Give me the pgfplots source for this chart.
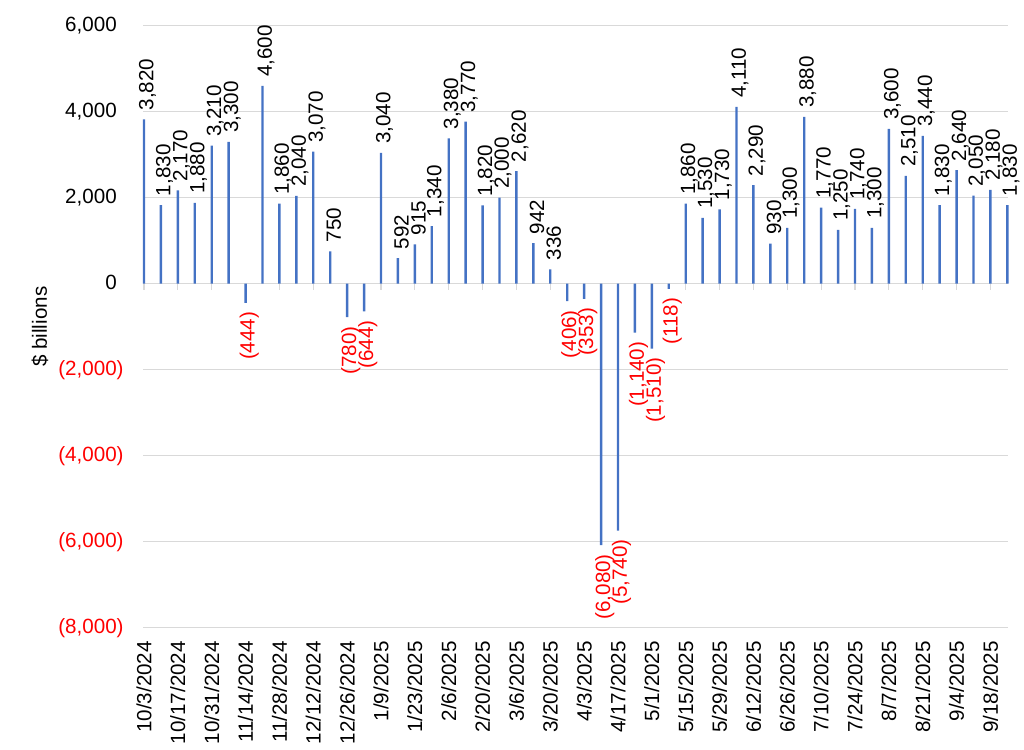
\documentclass[border=0pt]{standalone}
\usepackage{fontspec}
\setmainfont{Liberation Sans}
\usepackage{graphicx}
\usepackage{pgfplots}
\usepackage{pgfplotstable}
\pgfplotsset{compat=1.18}

\definecolor{barblue}{HTML}{4472C4}
\definecolor{gridgray}{HTML}{D9D9D9}

% weekly flows, $ billions (week 1 = 10/3/2024)
\pgfplotstableread{
wk flow
1 3820
2 1830
3 2170
4 1880
5 3210
6 3300
7 -444
8 4600
9 1860
10 2040
11 3070
12 750
13 -780
14 -644
15 3040
16 592
17 915
18 1340
19 3380
20 3770
21 1820
22 2000
23 2620
24 942
25 336
26 -406
27 -353
28 -6080
29 -5740
30 -1140
31 -1510
32 -118
33 1860
34 1530
35 1730
36 4110
37 2290
38 930
39 1300
40 3880
41 1770
42 1250
43 1740
44 1300
45 3600
46 2510
47 3440
48 1830
49 2640
50 2050
51 2180
52 1830
}\flows

% positive: black above the bar, negative: red in parentheses below
\newcommand\flowlabel{%
  \ifdim\rawy pt<0pt
    \pgfmathparse{abs(\rawy)}%
    \rotatebox{90}{\color{red}(\pgfmathprintnumber{\pgfmathresult})}%
  \else
    \rotatebox{90}{\pgfmathprintnumber{\rawy}}%
  \fi}

\begin{document}
\begin{tikzpicture}[font=\fontsize{10.3}{12}\selectfont]
\begin{axis}[
  name=ax,
  scale only axis,
  width=432.5pt, height=301pt,
  xmin=0.94, xmax=52.04,
  ymin=-8000, ymax=6000,
  clip=false,
  axis line style={draw=none},
  major tick length=0pt,
  ymajorgrids,
  grid style={gridgray, line width=0.6pt},
  ytick={-8000,-6000,...,6000},
  yticklabels={{\color{red}(8,000)},{\color{red}(6,000)},{\color{red}(4,000)},{\color{red}(2,000)},
    {0\phantom{)}},{2,000\phantom{)}},{4,000\phantom{)}},{6,000\phantom{)}}},
  yticklabel style={anchor=east, inner sep=0pt},
  yticklabel shift=9.5pt,
  xtick={1,3,...,51},
  xticklabels={10/3/2024,10/17/2024,10/31/2024,11/14/2024,11/28/2024,12/12/2024,12/26/2024,
    1/9/2025,1/23/2025,2/6/2025,2/20/2025,3/6/2025,3/20/2025,4/3/2025,4/17/2025,5/1/2025,
    5/15/2025,5/29/2025,6/12/2025,6/26/2025,7/10/2025,7/24/2025,8/7/2025,8/21/2025,9/4/2025,9/18/2025},
  xticklabel style={rotate=90, anchor=east, inner sep=0pt},
  xticklabel shift=6.5pt,
  ylabel={\$ billions},
  ylabel style={at={(axis description cs:-0.119,0.5)}, anchor=center},
  /pgf/number format/1000 sep={,},
  /pgf/number format/assume math mode=true,
]
  \pgfplotsinvokeforeach{1,3,...,51}{
    \draw[gridgray, line width=0.6pt] (axis cs:#1,0) -- (axis cs:#1,-140);
  }
  \addplot[
    ybar, bar width=1.2pt,
    fill=barblue, draw=none,
    visualization depends on=rawy \as \rawy,
    nodes near coords=\flowlabel,
    nodes near coords align={vertical},
    every node near coord/.append style={inner sep=0pt, outer sep=4.5pt, xshift=1.8pt, black},
  ] table[x=wk, y=flow] {\flows};
\end{axis}
\pgfresetboundingbox
\path[use as bounding box] ([xshift=-71.5pt, yshift=-60.65pt]ax.south west)
  rectangle ([xshift=8pt, yshift=12.85pt]ax.north east);
\end{tikzpicture}
\end{document}
